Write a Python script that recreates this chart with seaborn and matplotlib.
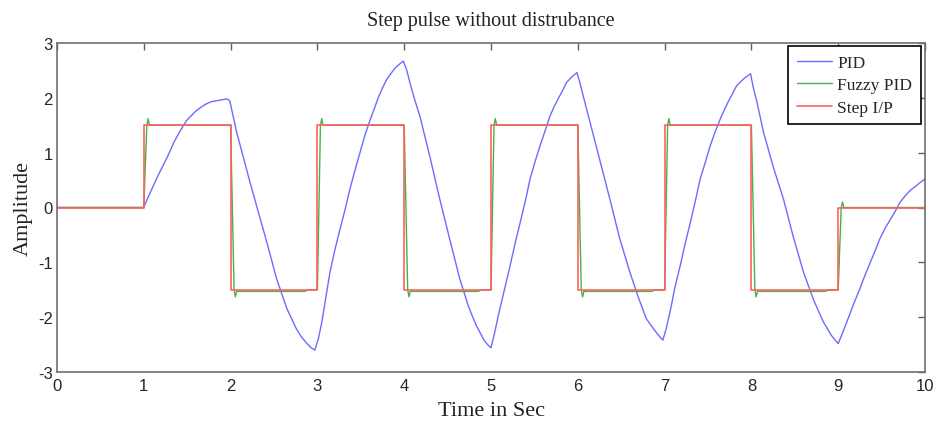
import numpy as np
import pandas as pd
import matplotlib
matplotlib.use("Agg")
import matplotlib.pyplot as plt
import seaborn as sns

# ---------------- data ----------------
step_time = [0, 1, 2, 3, 4, 5, 6, 7, 8, 9, 10]
step_amp = [0, 1.5, -1.5, 1.5, -1.5, 1.5, -1.5, 1.5, -1.5, 0, 0]

fuzzy_time = [0, 1.0, 1.035, 1.05, 1.065, 1.5,
              2.0, 2.04, 2.055, 2.07, 2.85, 2.9,
              3.0, 3.035, 3.05, 3.065, 3.5,
              4.0, 4.04, 4.055, 4.07, 4.85, 4.9,
              5.0, 5.035, 5.05, 5.065, 5.5,
              6.0, 6.04, 6.055, 6.07, 6.85, 6.9,
              7.0, 7.035, 7.05, 7.065, 7.5,
              8.0, 8.04, 8.055, 8.07, 8.85, 8.9,
              9.0, 9.035, 9.05, 9.065, 10.0]
fuzzy_amp = [0, 0, 1.5, 1.62, 1.5, 1.5,
             1.5, -1.5, -1.63, -1.53, -1.53, -1.5,
             -1.5, 1.5, 1.62, 1.5, 1.5,
             1.5, -1.5, -1.63, -1.53, -1.53, -1.5,
             -1.5, 1.5, 1.62, 1.5, 1.5,
             1.5, -1.5, -1.63, -1.53, -1.53, -1.5,
             -1.5, 1.5, 1.62, 1.5, 1.5,
             1.5, -1.5, -1.63, -1.53, -1.53, -1.5,
             -1.5, 0.0, 0.1, 0.0, 0.0]

pid_time = [0, 1.0, 1.05, 1.1, 1.16, 1.22, 1.28, 1.35, 1.42, 1.49, 1.55, 1.6, 1.66,
            1.72, 1.78, 1.85, 1.9, 1.955, 1.99,
            2.03, 2.07, 2.15, 2.22, 2.30, 2.42, 2.53, 2.65, 2.76, 2.82, 2.88, 2.93, 2.97,
            3.01, 3.05, 3.1, 3.145, 3.2, 3.26, 3.32, 3.375, 3.44, 3.5, 3.55, 3.61, 3.66,
            3.7, 3.75, 3.80, 3.85, 3.9, 3.95, 3.99,
            4.03, 4.07, 4.12, 4.18, 4.3, 4.41, 4.52, 4.64, 4.74, 4.79, 4.83, 4.88, 4.92,
            4.96, 5.0,
            5.04, 5.08, 5.15, 5.22, 5.28, 5.34, 5.4, 5.45, 5.51, 5.57, 5.63, 5.68, 5.73,
            5.78, 5.83, 5.87, 5.93, 5.99,
            6.02, 6.06, 6.14, 6.25, 6.37, 6.48, 6.60, 6.70, 6.79, 6.85, 6.89, 6.94, 6.98,
            7.02, 7.07, 7.12, 7.18, 7.24, 7.30, 7.36, 7.41, 7.47, 7.52, 7.58, 7.64, 7.69,
            7.74, 7.79, 7.83, 7.88, 7.92, 7.99,
            8.02, 8.06, 8.14, 8.25, 8.37, 8.48, 8.60, 8.72, 8.83, 8.88, 8.92, 8.96, 9.0,
            9.06, 9.12, 9.18, 9.25, 9.31, 9.37, 9.43, 9.48, 9.54, 9.60, 9.66, 9.71,
            9.76, 9.81, 9.86, 9.90, 9.95, 10.0]
pid_amp = [0, 0, 0.19, 0.36, 0.57, 0.76, 0.95, 1.2, 1.4, 1.58, 1.68, 1.76, 1.83,
           1.89, 1.93, 1.95, 1.965, 1.98, 1.95,
           1.66, 1.37, 0.9, 0.48, 0.03, -0.65, -1.30, -1.85, -2.22, -2.37, -2.48, -2.56, -2.6,
           -2.4, -2.1, -1.62, -1.18, -0.78, -0.4, -0.03, 0.34, 0.72, 1.05, 1.33, 1.61, 1.82,
           2.0, 2.18, 2.34, 2.45, 2.55, 2.62, 2.67,
           2.5, 2.25, 1.97, 1.67, 0.9, 0.15, -0.55, -1.30, -1.8, -2.0, -2.15, -2.3, -2.42,
           -2.5, -2.56,
           -2.3, -2.0, -1.53, -1.06, -0.64, -0.25, 0.15, 0.52, 0.85, 1.15, 1.43, 1.67, 1.85,
           2.0, 2.15, 2.28, 2.38, 2.46,
           2.3, 2.05, 1.56, 0.88, 0.15, -0.55, -1.18, -1.65, -2.03, -2.16, -2.25, -2.35, -2.42,
           -2.2, -1.85, -1.45, -1.06, -0.64, -0.25, 0.16, 0.52, 0.83, 1.1, 1.37, 1.61, 1.79,
           1.95, 2.1, 2.22, 2.3, 2.36, 2.44,
           2.2, 1.95, 1.37, 0.75, 0.15, -0.52, -1.18, -1.7, -2.09, -2.22, -2.33, -2.41, -2.48,
           -2.25, -2.0, -1.75, -1.48, -1.23, -1.0, -0.77, -0.57, -0.38, -0.22, -0.06, 0.09,
           0.19, 0.28, 0.35, 0.40, 0.46, 0.52]

x_ticks = [0, 1, 2, 3, 4, 5, 6, 7, 8, 9, 10]
y_ticks = [-3, -2, -1, 0, 1, 2, 3]
labels = ["PID", "Fuzzy PID", "Step I/P"]
colors = ["#6b6bff", "#48b048", "#ff6060"]

# ---------------- plot ----------------
sns.set_style("white")
plt.rcParams['font.family'] = ['Liberation Serif', 'DejaVu Serif']

fig = plt.figure(figsize=(9.36, 4.27), dpi=100)
ax = fig.add_axes([57 / 936, 54 / 427, 868 / 936, 329 / 427])

pid_df = pd.DataFrame({"t": pid_time, "a": pid_amp})
fz_df = pd.DataFrame({"t": fuzzy_time, "a": fuzzy_amp})
st_df = pd.DataFrame({"t": step_time, "a": step_amp})

sns.lineplot(data=pid_df, x="t", y="a", ax=ax, color=colors[0], lw=1.0,
             estimator=None, sort=False, label=labels[0])
sns.lineplot(data=fz_df, x="t", y="a", ax=ax, color=colors[1], lw=1.0,
             estimator=None, sort=False, label=labels[1])
sns.lineplot(data=st_df, x="t", y="a", ax=ax, color=colors[2], lw=1.2,
             estimator=None, sort=False, drawstyle="steps-post", label=labels[2])

ax.set_xlim(0, 10)
ax.set_ylim(-3, 3)
ax.set_xticks(x_ticks)
ax.set_yticks(y_ticks)
ax.set_xticklabels([str(v) for v in x_ticks], fontfamily="Liberation Sans", fontsize=12)
ax.set_yticklabels([str(v) for v in y_ticks], fontfamily="Liberation Sans", fontsize=12)
ax.tick_params(direction="in", length=5, width=1, color="#606060",
               top=True, right=True, pad=4)
ax.tick_params(axis="y", pad=3)
for s in ax.spines.values():
    s.set_color("#707070")
    s.set_linewidth(1.2)

ax.set_title("Step pulse without distrubance", fontsize=14.5, pad=13, color="#222222")
ax.set_xlabel("Time in Sec", fontsize=16, labelpad=6, color="#222222")
ax.set_ylabel("Amplitude", fontsize=16, labelpad=4, color="#222222")

leg = ax.legend(loc="upper right", bbox_to_anchor=(0.995, 0.99), borderaxespad=0,
                fontsize=12.5, fancybox=False, framealpha=1, edgecolor="black",
                handlelength=2.0, labelspacing=0.35, borderpad=0.5, handletextpad=0.3)
leg.get_frame().set_linewidth(1.2)

fig.savefig("out.png", dpi=100, facecolor="white")
